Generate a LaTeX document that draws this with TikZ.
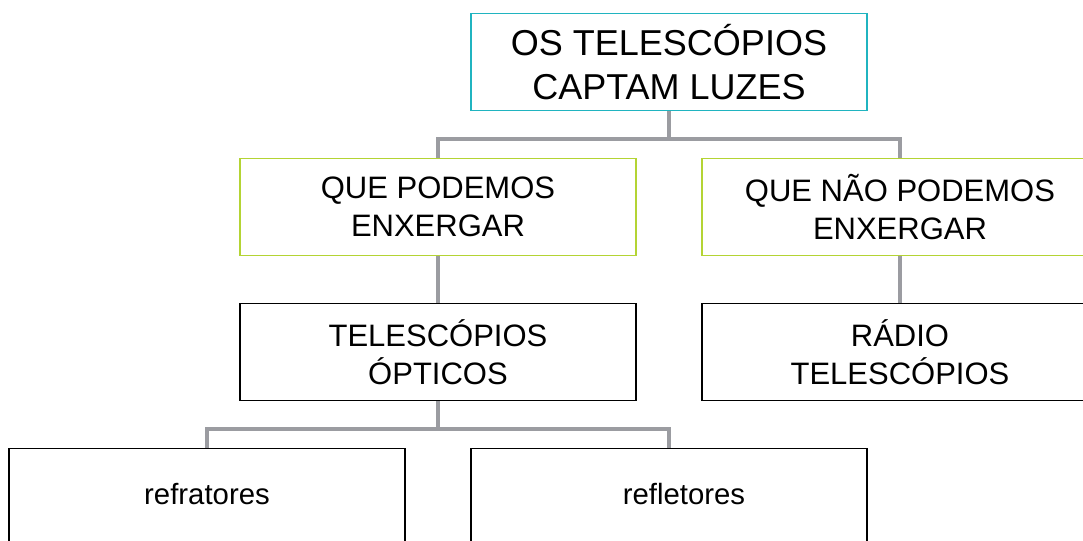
\documentclass[tikz,border=0pt]{standalone}
\usepackage{fontspec}
\setmainfont{Liberation Sans}
\usetikzlibrary{positioning}
\definecolor{boxcyan}{RGB}{32,180,192}
\definecolor{boxgreen}{RGB}{180,212,52}
\definecolor{linegray}{RGB}{155,156,161}

\begin{document}
\begin{tikzpicture}[on grid, node distance=108.75pt and 173.25pt, main node/.style={rectangle, draw, line width=0.9pt, fill=white, minimum width=297pt, minimum height=72.75pt, inner sep=0pt, align=center, font=\fontsize{23.25}{28.5}\selectfont}, leaf node/.style={main node, font=\fontsize{22}{26.4}\selectfont}, link/.style={draw=linegray, line width=3.5pt}]

			\useasboundingbox (-501.75pt,46.5pt) rectangle (310.5pt,-359.25pt);

			\node[main node, draw=boxcyan, font=\fontsize{27}{32.4}\selectfont] (1) {OS TELESCÓPIOS\\CAPTAM LUZES};
			\node[main node, draw=boxgreen] (2) [below left=of 1] {QUE PODEMOS\\ENXERGAR};
			\node[main node, draw=boxgreen] (3) [below right=of 1] {QUE NÃO PODEMOS\\ENXERGAR};

			\node[main node] (4) [below=of 2] {TELESCÓPIOS\\ÓPTICOS};
			\node[main node] (5) [below=of 3] {RÁDIO\\TELESCÓPIOS};

			\node[leaf node] (6) [below left=of 4] {\raisebox{4pt}{refratores}};
			\node[leaf node] (7) [below right=of 4] {\hspace*{22.5pt}\raisebox{4pt}{refletores}};

			% luzes: visiveis e invisiveis
			\draw[link] (1.south) -- ++(0,-21pt) -| (2.north);
			\draw[link] (1.south) -- ++(0,-21pt) -| (3.north);
			\draw[link] (2) -- (4);
			\draw[link] (3) -- (5);

			% tipos de telescopios opticos
			\draw[link] (4.south) -- ++(0,-21pt) -| (6.north);
			\draw[link] (4.south) -- ++(0,-21pt) -| (7.north);

		\end{tikzpicture}
\end{document}
